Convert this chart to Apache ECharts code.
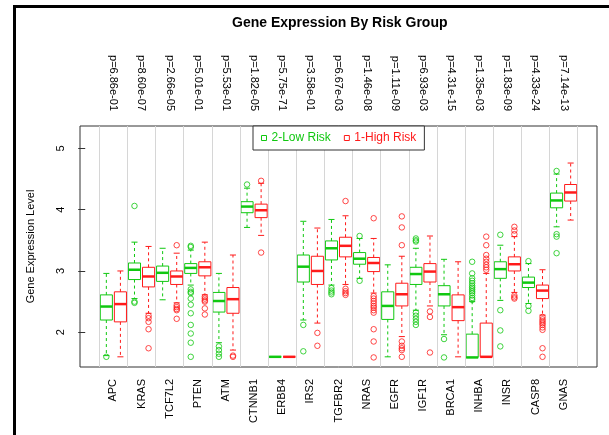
<!DOCTYPE html>
<html>
<head>
<meta charset="utf-8">
<script src="https://cdn.jsdelivr.net/npm/echarts@6/dist/echarts.min.js"></script>
<style>
  html, body { margin: 0; padding: 0; background: #fff; }
  #chart { width: 609px; height: 435px; }
</style>
</head>
<body>
<div id="chart"></div>
<script>
const genes = ['APC', 'KRAS', 'TCF7L2', 'PTEN', 'ATM', 'CTNNB1', 'ERBB4', 'IRS2', 'TGFBR2',
  'NRAS', 'EGFR', 'IGF1R', 'BRCA1', 'INHBA', 'INSR', 'CASP8', 'GNAS'];
const pValues = ['6.86e-01', '8.60e-07', '2.66e-05', '5.01e-01', '5.53e-01', '1.82e-05', '5.75e-71',
  '3.58e-01', '6.67e-03', '1.46e-08', '1.11e-09', '6.93e-03', '4.31e-15', '1.35e-03', '1.83e-09',
  '4.33e-24', '7.14e-13'];
const yTicks = [2, 3, 4, 5];

// [lower whisker, Q1, median, Q3, upper whisker]
const lowStats = [
  [1.62, 2.20, 2.42, 2.61, 2.96],
  [2.55, 2.86, 3.02, 3.13, 3.47],
  [2.53, 2.83, 2.97, 3.08, 3.37],
  [2.77, 2.96, 3.05, 3.12, 3.34],
  [1.83, 2.33, 2.51, 2.65, 2.96],
  [3.71, 3.95, 4.05, 4.13, 4.35],
  [1.60, 1.60, 1.60, 1.60, 1.60],
  [2.20, 2.82, 3.07, 3.26, 3.81],
  [2.77, 3.18, 3.37, 3.49, 3.84],
  [2.88, 3.11, 3.20, 3.30, 3.53],
  [1.60, 2.21, 2.43, 2.66, 3.10],
  [2.36, 2.78, 2.95, 3.06, 3.37],
  [1.96, 2.43, 2.62, 2.76, 3.19],
  [1.59, 1.59, 1.59, 1.97, 2.50],
  [2.52, 2.88, 3.03, 3.15, 3.42],
  [2.47, 2.73, 2.81, 2.90, 3.12],
  [3.72, 4.03, 4.15, 4.27, 4.58]
];
const highStats = [
  [1.60, 2.17, 2.46, 2.66, 3.00],
  [2.31, 2.74, 2.91, 3.06, 3.40],
  [2.48, 2.78, 2.91, 3.00, 3.29],
  [2.61, 2.92, 3.06, 3.15, 3.47],
  [1.71, 2.31, 2.54, 2.73, 3.26],
  [3.58, 3.87, 3.99, 4.09, 4.43],
  [1.60, 1.60, 1.60, 1.60, 1.60],
  [2.15, 2.78, 3.00, 3.24, 3.70],
  [2.78, 3.23, 3.41, 3.55, 3.90],
  [2.64, 2.99, 3.13, 3.22, 3.53],
  [1.93, 2.43, 2.62, 2.80, 3.24],
  [2.43, 2.82, 2.99, 3.12, 3.57],
  [1.60, 2.19, 2.41, 2.61, 3.15],
  [1.60, 1.60, 1.60, 2.15, 2.96],
  [2.65, 3.00, 3.11, 3.23, 3.56],
  [2.28, 2.55, 2.68, 2.77, 3.02],
  [3.83, 4.14, 4.28, 4.41, 4.76]
];
const lowOutliers = [
  [1.60],
  [4.06, 2.50, 2.48],
  [],
  [3.41, 3.39, 2.70, 2.66, 2.64, 2.55, 2.45, 2.31, 2.12, 1.98, 1.83, 1.60],
  [1.77, 1.71, 1.65, 1.60],
  [4.41],
  [],
  [2.12, 1.69],
  [2.72, 2.68, 2.65, 2.62],
  [3.57, 2.84],
  [],
  [3.53, 3.50, 3.48, 2.32, 2.27, 2.22, 2.17, 2.12],
  [1.89, 1.59],
  [3.15, 2.96, 2.88, 2.84, 2.80, 2.76, 2.73, 2.70, 2.67, 2.64, 2.60, 2.56, 2.53],
  [3.59, 2.36, 2.03, 1.77],
  [3.16, 2.43, 2.35],
  [4.63, 3.60, 3.56, 3.29]
];
const highOutliers = [
  [],
  [2.27, 2.23, 2.17, 2.05, 1.74],
  [3.42, 2.44, 2.41, 2.38, 2.36, 2.22],
  [2.58, 2.55, 2.52, 2.50, 2.39, 2.29],
  [1.62, 1.60],
  [4.47, 3.30],
  [],
  [1.99, 1.78],
  [4.14, 2.71, 2.67, 2.64, 2.61],
  [3.86, 2.59, 2.55, 2.51, 2.47, 2.43, 2.40, 2.36, 2.32, 2.05, 1.85, 1.59],
  [3.89, 3.71, 3.42, 1.85, 1.78, 1.74, 1.71, 1.60],
  [2.34, 2.25, 1.67],
  [],
  [3.56, 3.42, 3.26, 3.20, 3.15, 3.10, 3.06, 3.02],
  [3.72, 3.66, 3.60, 2.60, 2.57, 2.55],
  [2.25, 2.21, 2.18, 2.15, 2.12, 2.08, 2.04, 1.74, 1.60],
  []
];

const GREEN = '#10c810';
const RED = '#ff1a1a';
const FONT = 'Liberation Sans, Arial, sans-serif';
const SHIFT = 0.25;
const BOX_W = 0.43;

const geneX = genes.map((g, i) => i + 1);
const separators = genes.map((g, i) => i + 0.5).concat([genes.length + 0.5]);

function boxData(stats, shift) {
  return stats.map((s, i) => [geneX[i] + shift].concat(s));
}

function outlierData(list, shift) {
  const out = [];
  list.forEach((vals, i) => vals.forEach((v) => out.push([geneX[i] + shift, v])));
  return out;
}

function boxRenderer(color) {
  return function (params, api) {
    const x = api.value(0);
    const lo = api.coord([x, api.value(1)]);
    const q1 = api.coord([x, api.value(2)]);
    const md = api.coord([x, api.value(3)]);
    const q3 = api.coord([x, api.value(4)]);
    const hi = api.coord([x, api.value(5)]);
    const w = api.size([BOX_W, 0])[0];
    const cx = lo[0];
    const dashed = { stroke: color, lineWidth: 1, lineDash: [3, 3] };
    const solid = { stroke: color, lineWidth: 1 };
    return {
      type: 'group',
      children: [
        { type: 'line', shape: { x1: cx, y1: q3[1], x2: cx, y2: hi[1] }, style: dashed },
        { type: 'line', shape: { x1: cx, y1: q1[1], x2: cx, y2: lo[1] }, style: dashed },
        { type: 'line', shape: { x1: cx - w / 4, y1: hi[1], x2: cx + w / 4, y2: hi[1] }, style: solid },
        { type: 'line', shape: { x1: cx - w / 4, y1: lo[1], x2: cx + w / 4, y2: lo[1] }, style: solid },
        {
          type: 'rect',
          shape: { x: cx - w / 2, y: q3[1], width: w, height: q1[1] - q3[1] },
          style: { fill: 'rgba(255,255,255,0)', stroke: color, lineWidth: 1 }
        },
        {
          type: 'line',
          shape: { x1: cx - w / 2, y1: md[1], x2: cx + w / 2, y2: md[1] },
          style: { stroke: color, lineWidth: 2.5 }
        }
      ]
    };
  };
}

const chart = echarts.init(document.getElementById('chart'), null, { renderer: 'canvas' });

chart.setOption({
  animation: false,
  textStyle: { fontFamily: FONT },
  title: {
    text: 'Gene Expression By Risk Group',
    left: 232,
    top: 16,
    padding: 0,
    textStyle: { fontSize: 14, fontWeight: 'bold', color: '#000', fontFamily: FONT }
  },
  legend: {
    left: 253,
    top: 126,
    orient: 'horizontal',
    padding: [6, 8, 6, 8],
    itemWidth: 5,
    itemHeight: 5,
    itemGap: 13,
    backgroundColor: '#fff',
    borderColor: '#333',
    borderWidth: 1,
    borderRadius: 0,
    selectedMode: false,
    textStyle: { fontSize: 12, fontFamily: FONT },
    data: [
      {
        name: '2-Low Risk',
        icon: 'rect',
        itemStyle: { color: 'rgba(0,0,0,0)', borderColor: GREEN, borderWidth: 1 },
        textStyle: { color: GREEN }
      },
      {
        name: '1-High Risk',
        icon: 'rect',
        itemStyle: { color: 'rgba(0,0,0,0)', borderColor: RED, borderWidth: 1 },
        textStyle: { color: RED }
      }
    ],
    z: 10
  },
  grid: {
    left: 80,
    right: 12,
    top: 126,
    bottom: 68,
    show: true,
    borderColor: '#333',
    borderWidth: 1,
    containLabel: false
  },
  xAxis: [
    {
      type: 'value',
      position: 'bottom',
      min: -0.186,
      max: 18.186,
      axisLine: { show: false },
      axisTick: { show: false },
      splitLine: { show: false },
      axisLabel: {
        customValues: geneX,
        rotate: 90,
        margin: 12,
        fontSize: 11,
        color: '#000',
        formatter: (v) => genes[Math.round(v) - 1]
      }
    },
    {
      type: 'value',
      position: 'top',
      min: -0.186,
      max: 18.186,
      axisLine: { show: false },
      axisTick: { show: false },
      splitLine: { show: false },
      axisLabel: {
        customValues: geneX,
        rotate: 90,
        margin: 15,
        fontSize: 11,
        color: '#000',
        formatter: (v) => 'p=' + pValues[Math.round(v) - 1]
      }
    }
  ],
  yAxis: {
    type: 'value',
    min: 1.434,
    max: 5.364,
    name: 'Gene Expression Level',
    nameLocation: 'middle',
    nameGap: 44,
    nameTextStyle: { fontSize: 11, color: '#000', fontFamily: FONT },
    axisLine: { show: false },
    splitLine: { show: false },
    axisTick: { show: true, customValues: yTicks, length: 7, lineStyle: { color: '#333' } },
    axisLabel: {
      customValues: yTicks,
      rotate: 90,
      margin: 14,
      fontSize: 11,
      color: '#000'
    }
  },
  graphic: [
    { type: 'line', shape: { x1: 14.5, y1: 5, x2: 14.5, y2: 435 }, style: { stroke: '#000', lineWidth: 3 } },
    { type: 'line', shape: { x1: 13, y1: 6.5, x2: 609, y2: 6.5 }, style: { stroke: '#000', lineWidth: 3 } }
  ],
  series: [
    {
      name: 'separators',
      type: 'line',
      data: [],
      silent: true,
      markLine: {
        silent: true,
        symbol: ['none', 'none'],
        label: { show: false },
        lineStyle: { color: '#d6d6d6', type: 'solid', width: 1 },
        data: separators.map((v) => ({ xAxis: v }))
      }
    },
    {
      name: '2-Low Risk',
      type: 'custom',
      renderItem: boxRenderer(GREEN),
      itemStyle: { color: GREEN },
      encode: { x: 0, y: [1, 2, 3, 4, 5] },
      data: boxData(lowStats, -SHIFT),
      z: 3
    },
    {
      name: '1-High Risk',
      type: 'custom',
      renderItem: boxRenderer(RED),
      itemStyle: { color: RED },
      encode: { x: 0, y: [1, 2, 3, 4, 5] },
      data: boxData(highStats, SHIFT),
      z: 3
    },
    {
      name: '2-Low Risk',
      type: 'scatter',
      symbol: 'circle',
      symbolSize: 5.5,
      itemStyle: { color: 'rgba(0,0,0,0)', borderColor: GREEN, borderWidth: 1 },
      data: outlierData(lowOutliers, -SHIFT),
      z: 4
    },
    {
      name: '1-High Risk',
      type: 'scatter',
      symbol: 'circle',
      symbolSize: 5.5,
      itemStyle: { color: 'rgba(0,0,0,0)', borderColor: RED, borderWidth: 1 },
      data: outlierData(highOutliers, SHIFT),
      z: 4
    }
  ]
});
</script>
</body>
</html>
